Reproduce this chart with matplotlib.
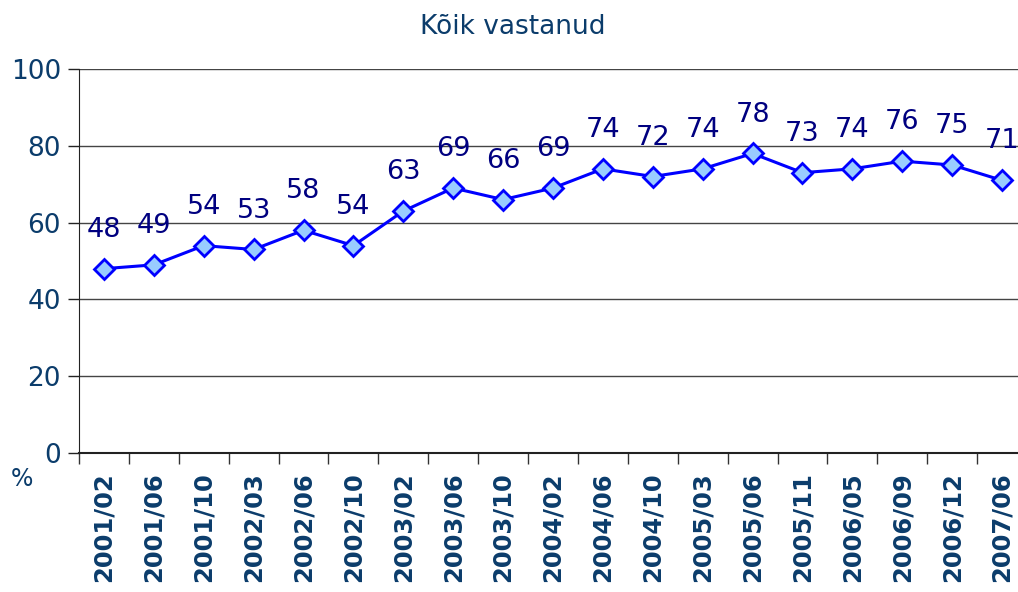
import matplotlib.pyplot as plt
import numpy as np

labels = ['2001/02', '2001/06', '2001/10', '2002/03', '2002/06', '2002/10', '2003/02',
          '2003/06', '2003/10', '2004/02', '2004/06', '2004/10', '2005/03', '2005/06',
          '2005/11', '2006/05', '2006/09', '2006/12', '2007/06']
values = [48, 49, 54, 53, 58, 54, 63, 69, 66, 69, 74, 72, 74, 78, 73, 74, 76, 75, 71]
yticks = [0, 20, 40, 60, 80, 100]

tick_col = '#0B3C6B'
lab_col = '#000080'

fig = plt.figure(figsize=(10.18, 5.92), dpi=100)
ax = fig.add_axes([79/1018., 1-453/592., 948/1018., 384/592.])

x = np.arange(len(values))
ax.plot(x, values, color='#0000FF', lw=2.2, marker='D', ms=10.5,
        mfc='#99CCFF', mec='#0000FF', mew=2.0, zorder=3, clip_on=False)
for xi, v in zip(x, values):
    ax.annotate(str(v), (xi, v), xytext=(0, 28), textcoords='offset points',
                ha='center', va='center', fontsize=19.5, color=lab_col)

ax.set_xlim(-0.5, len(values)-0.5)
ax.set_ylim(0, 100)
ax.set_yticks(yticks)
ax.set_yticklabels([str(t) for t in yticks], fontsize=19, color=tick_col)
ax.yaxis.grid(True, color='#444444', lw=1.0)
ax.set_axisbelow(True)
ax.tick_params(axis='y', length=8, width=1, color='#222222', pad=5)

ax.set_xticks(np.arange(len(values)+1)-0.5, minor=False)
ax.set_xticklabels([])
ax.set_xticks(x, minor=True)
ax.set_xticklabels(labels, minor=True, rotation=90, fontsize=17.5, fontweight='bold', color=tick_col)
ax.tick_params(axis='x', which='major', length=8, width=1, color='#333333')
ax.tick_params(axis='x', which='minor', length=0, pad=14)

for s in ['top', 'right']:
    ax.spines[s].set_visible(False)
ax.spines['left'].set_color('#222222')
ax.spines['bottom'].set_color('#222222')
ax.spines['bottom'].set_linewidth(1.5)

fig.text(513/1018., 1-27/592., 'Kõik vastanud', ha='center', va='center', fontsize=19, color=tick_col)
fig.text(22/1018., 1-479/592., '%', ha='center', va='center', fontsize=17, color=tick_col)

fig.savefig('out.png', dpi=100)
